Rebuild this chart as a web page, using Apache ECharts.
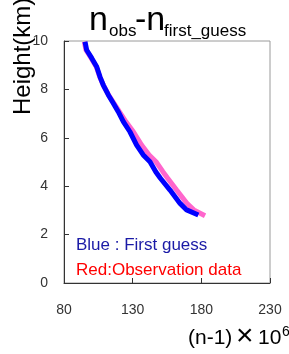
<!DOCTYPE html>
<html>
<head>
<meta charset="utf-8">
<script src="https://cdn.jsdelivr.net/npm/echarts@6/dist/echarts.min.js"></script>
<style>html,body{margin:0;padding:0;background:#fff;}#c{width:289px;height:354px;}</style>
</head>
<body>
<div id="c"></div>
<script>
// Data: refractivity (n-1)x10^6 vs height (km)
const blueHeights = [9.97, 9.63, 9.29, 8.94, 8.52, 8.18, 7.77, 7.43, 7.08, 6.67, 6.25, 5.70, 5.29, 5.01, 4.60, 4.33, 3.84, 3.29, 3.02, 2.81];
const blueValues  = [95.3, 96.5, 100.2, 103.8, 106.2, 108.6, 112.3, 115.9, 119.5, 123.2, 128.0, 132.9, 137.7, 142.6, 146.8, 150.2, 157.2, 164.5, 169.3, 177.8];
const redHeights  = [9.97, 9.63, 9.29, 8.94, 8.52, 8.18, 7.77, 7.43, 7.08, 6.67, 6.25, 5.70, 5.29, 5.01, 4.60, 4.33, 3.84, 3.29, 3.02, 2.78];
const redValues   = [94.8, 96.0, 99.8, 103.5, 106.0, 108.6, 112.5, 116.3, 120.3, 125.0, 130.5, 136.5, 142.0, 147.0, 152.0, 155.5, 162.0, 169.5, 174.5, 182.7];
const xTicks = [80, 130, 180, 230];
const yTicks = [0, 2, 4, 6, 8, 10];

const toPairs = (xs, ys) => xs.map((v, i) => [v, ys[i]]);
const chart = echarts.init(document.getElementById('c'), null, {renderer: 'canvas'});
const font = 'Liberation Sans, Arial, sans-serif';
// text piece helper: x = left edge, b = baseline, fs = font size
const piece = (s, x, b, fs, fill) => ({type: 'text', x: x, y: b - 0.35 * fs, style: {
  text: s, fontSize: fs, fontFamily: font, fill: fill || '#000', textAlign: 'left', textVerticalAlign: 'middle'}});
chart.setOption({
  animation: false,
  grid: {left: 64, top: 41, right: 19, bottom: 71, show: true, borderColor: '#9a9a9a', borderWidth: 1, containLabel: false},
  xAxis: {
    type: 'value', min: xTicks[0], max: xTicks[xTicks.length - 1], interval: 50,
    axisLine: {show: true, lineStyle: {color: '#333', width: 1}},
    axisTick: {show: true, inside: true, length: 5, lineStyle: {color: '#333'}},
    axisLabel: {color: '#333', fontSize: 14, fontFamily: font, margin: 20},
    splitLine: {show: false}
  },
  yAxis: {
    type: 'value', min: yTicks[0], max: yTicks[yTicks.length - 1], interval: 2,
    axisLine: {show: true, lineStyle: {color: '#333', width: 1}},
    axisTick: {show: true, inside: true, length: 5, lineStyle: {color: '#333'}},
    axisLabel: {color: '#333', fontSize: 14, fontFamily: font, margin: 16},
    splitLine: {show: false}
  },
  series: [
    {type: 'line', data: toPairs(redValues, redHeights), showSymbol: false, symbol: 'none',
     lineStyle: {color: '#ff66cc', width: 5}, z: 2},
    {type: 'line', data: toPairs(blueValues, blueHeights), showSymbol: false, symbol: 'none',
     lineStyle: {color: '#0000ff', width: 5}, z: 3}
  ],
  graphic: [
    piece('n', 89, 33, 34),
    piece('obs', 109, 37, 17),
    piece('-n', 135, 33, 34),
    piece('first_guess', 164, 37, 17),
    {type: 'text', x: 35, y: 115, rotation: Math.PI / 2, style: {
      text: 'Height(km)', fontSize: 24, fontFamily: font, fill: '#000', textAlign: 'left', textVerticalAlign: 'bottom'}},
    {type: 'text', left: 76, top: 237, style: {text: 'Blue : First guess', fontSize: 17, fontFamily: font, fill: '#1a1aa6'}},
    {type: 'text', left: 76, top: 262, style: {text: 'Red:Observation data', fontSize: 17, fontFamily: font, fill: '#ff0000'}},
    piece('(n-1)', 188, 346, 21),
    piece('×', 236, 347, 30),
    piece('10', 258, 346, 21),
    piece('6', 282, 337, 14)
  ]
});
</script>
</body>
</html>
